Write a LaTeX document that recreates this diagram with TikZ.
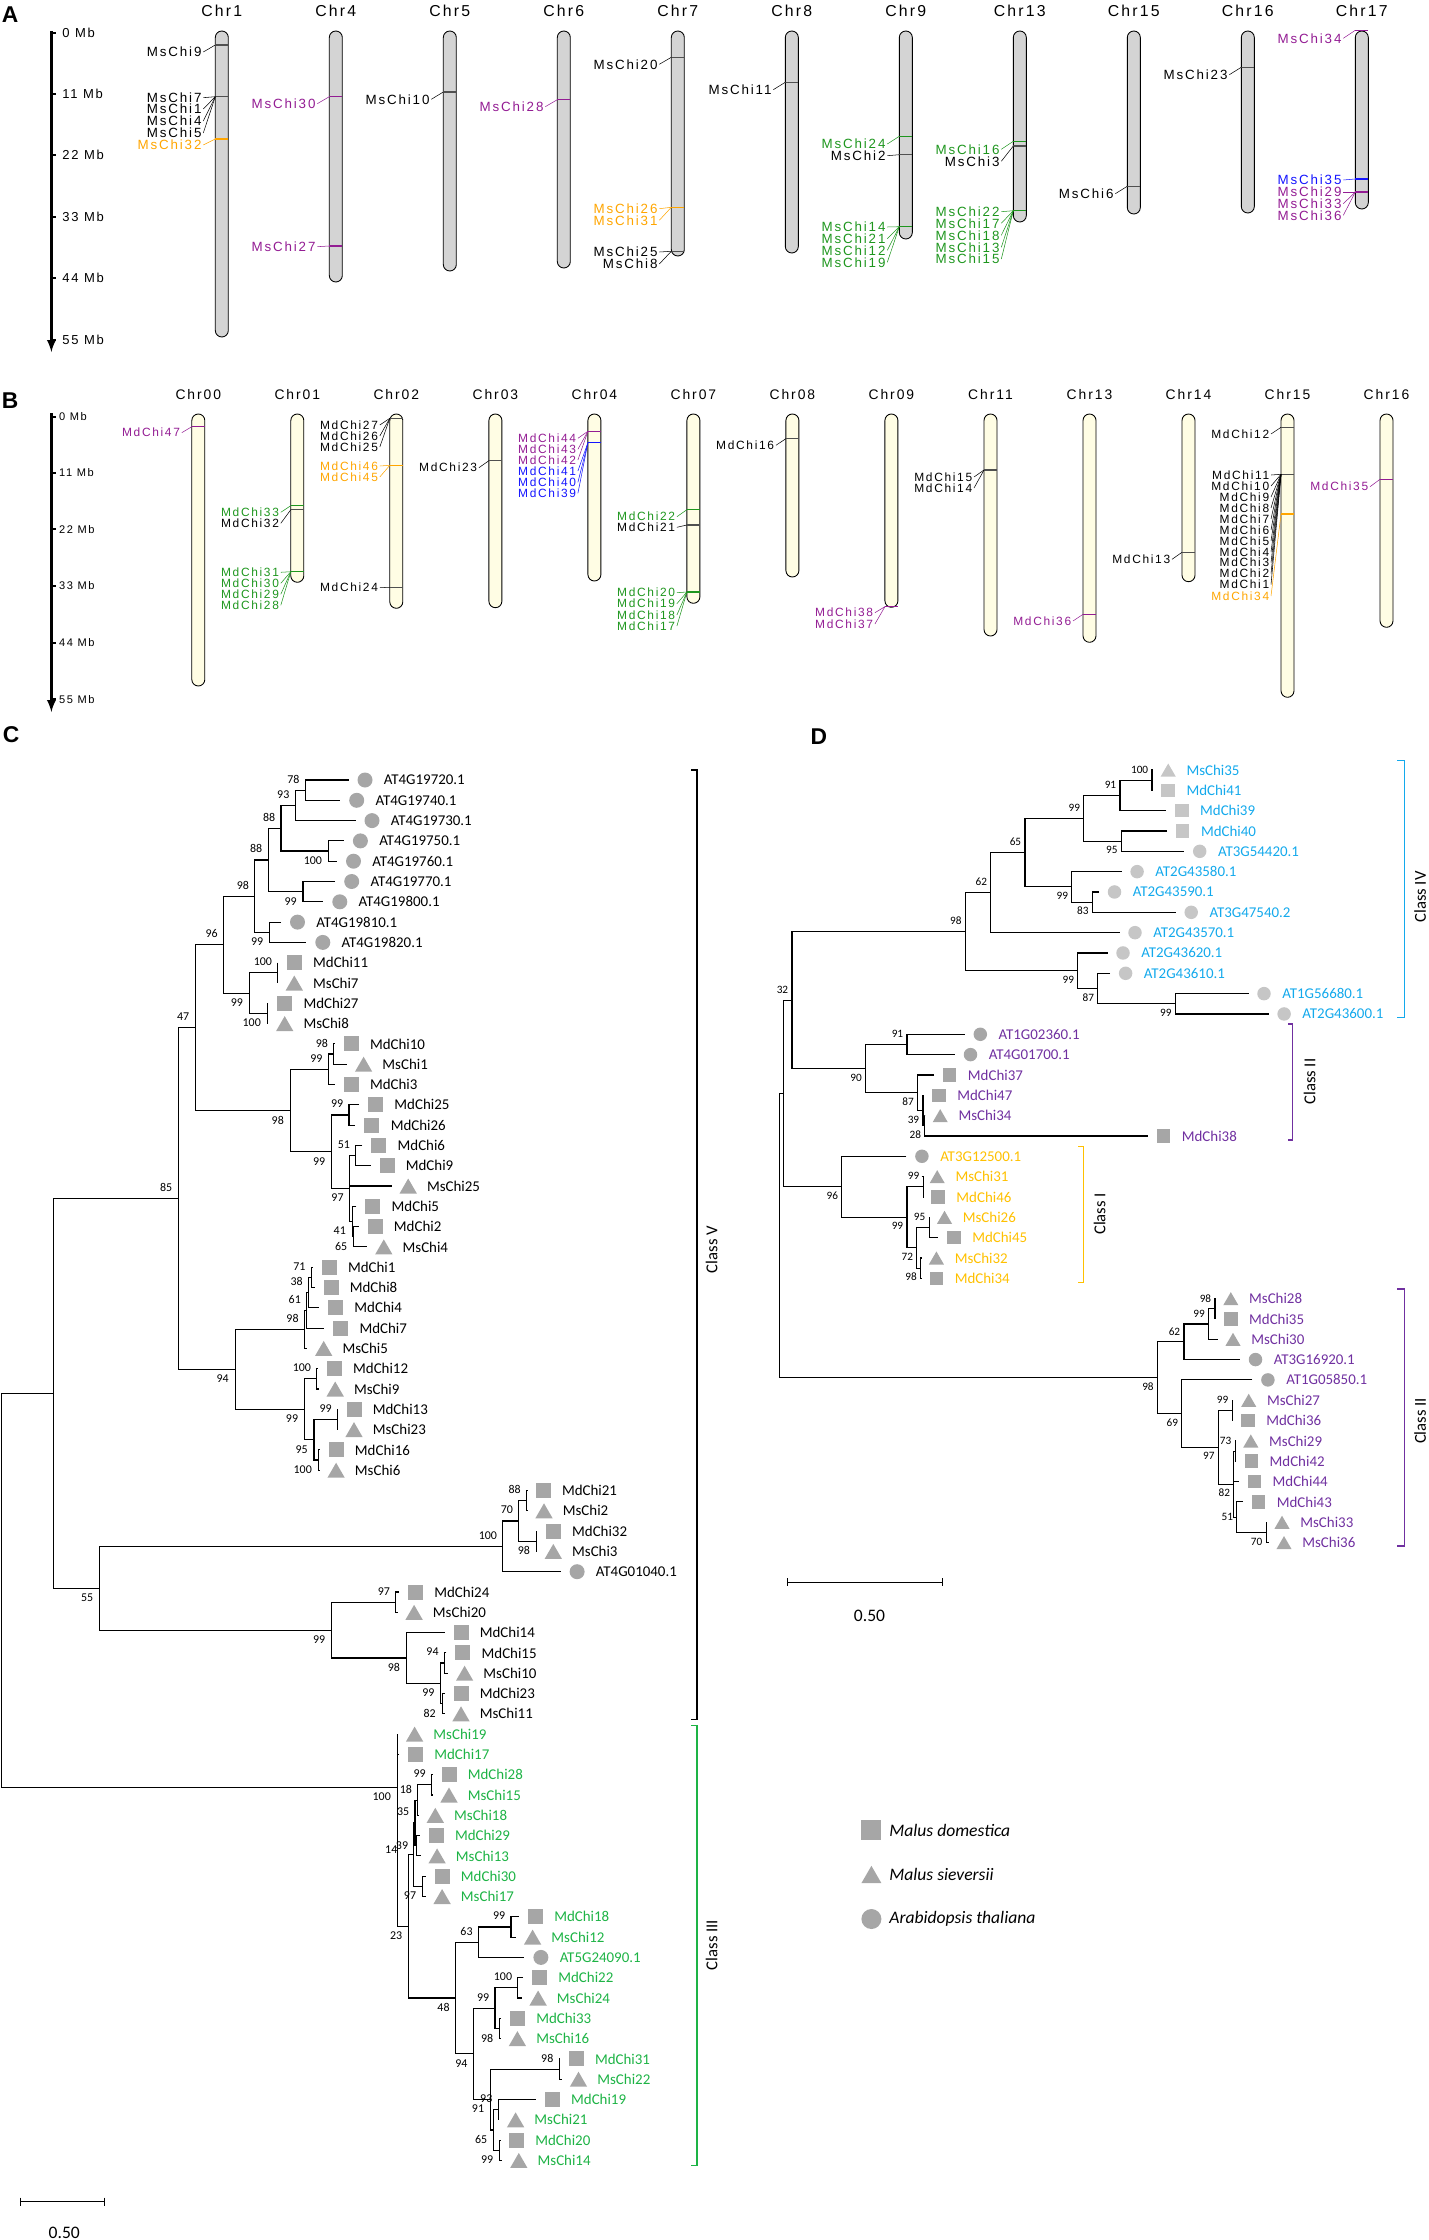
\documentclass[tikz,border=0pt]{standalone}
\usepackage{fontspec}
\usetikzlibrary{calc, arrows, shapes.geometric}
\newfontfamily\mcfont[LetterSpace=14]{Liberation Sans}
\newfontfamily\lsfont{Liberation Sans}
\newfontfamily\trfont{Carlito}

\definecolor{chrgray}{HTML}{D4D4D4}
\definecolor{chrivory}{HTML}{FFFDE4}
\definecolor{mkgray}{HTML}{505050}
\definecolor{agreen}{HTML}{1E961E}
\definecolor{apurple}{HTML}{931C93}
\definecolor{aorange}{HTML}{FFA500}
\definecolor{ablue}{HTML}{1414FF}
\definecolor{cgreen}{HTML}{1DB345}
\definecolor{dcyan}{HTML}{13A9EC}
\definecolor{dpurple}{HTML}{7030A0}
\definecolor{dgold}{HTML}{FFC000}
\definecolor{symgray}{HTML}{A6A6A6}
\definecolor{symlight}{HTML}{C6C6C6}

% gene on a chromosome: mark, then label with its connector
\newcommand{\gmark}[3]{\draw[#1, line width=0.7pt] ({#2-6.5},#3) -- ({#2+6.5},#3);}
\newcommand{\glabel}[6]{%
  \node[glab, text=#3] (#1-#2) at ({#4-\goff},#5) {#2};
  \draw[#3, line width=0.3pt] ([xshift=0.3mm]#1-#2.east) -- ({#4-6.5},#6);}

% tree: leaf (tip, symbol, name) and clade (elbow to first and last child)
\newcommand{\tleaf}[5]{%
  \coordinate (#1) at ({#2-\tipoff},{\ybase+\ystep*(#3-1)});
  \node[#4] (#1-s) at (#2,{\ybase+\ystep*(#3-1)}) {};
  \node[lname] (#1-t) at ({#2+\laboff},{\ybase+\ystep*(#3-1)}) {#5};}
\newcommand{\tcladeN}[4]{%
  \coordinate (#1m) at ($(#3)!.5!(#4)$);
  \coordinate (#1) at (#2,0 |- #1m);
  \draw[branch] (#3) -| (#1) |- (#4);}
\newcommand{\tclade}[6]{%
  \tcladeN{#1}{#2}{#3}{#4}
  \node[boot, #5] (#1-b) at (#1) {#6};}

\tikzset{
  chrom/.style={draw=black, line width=0.5pt, rounded corners=1.3mm},
  chrname/.style={font=\mcfont\fontsize{9}{10}\selectfont, inner sep=0pt},
  glab/.style={font=\mcfont\fontsize{7.6}{8}\selectfont, anchor=east, inner sep=0pt},
  ticklab/.style={font=\mcfont\fontsize{7.4}{8}\selectfont, anchor=west, inner sep=0pt},
  axis/.style={line width=1.3pt},
  panel/.style={font=\lsfont\bfseries\fontsize{13}{14}\selectfont, inner sep=0pt},
  branch/.style={line width=0.65pt},
  boot/.style={font=\trfont\fontsize{6.8}{7}\selectfont, inner sep=0pt, text=black, anchor=east},
  bu/.style={xshift=-1.1mm, yshift=2.2mm},
  bd/.style={xshift=-1.2mm, yshift=-1.9mm},
  bm/.style={xshift=-0.6mm},
  b14/.style={xshift=-3.1mm, yshift=1mm},
  b39/.style={xshift=-1.7mm},
  lcol/.style={},
  lname/.style={font=\trfont\fontsize{8.5}{9}\selectfont, anchor=west, inner sep=0pt, lcol},
  symfill/.style={fill=symgray},
  symsz/.style={minimum size=0.3cm},
  trisz/.style={minimum size=0.4cm, yshift=-0.5mm},
  msq/.style={rectangle, symfill, symsz, inner sep=0pt},
  mdot/.style={circle, symfill, symsz, inner sep=0pt},
  mtri/.style={regular polygon, regular polygon sides=3, symfill, trisz, inner sep=0pt},
  brk/.style={line width=0.6pt},
  clab/.style={font=\trfont\fontsize{9.5}{10}\selectfont, rotate=90, inner sep=0pt},
  sclab/.style={font=\trfont\fontsize{10}{11}\selectfont, inner sep=0pt},
  lgtext/.style={font=\trfont\itshape\fontsize{10}{11}\selectfont, anchor=west, inner sep=0pt}
}

\begin{document}
\begin{tikzpicture}[>=latex, x=0.02cm, y=-0.02cm]
\useasboundingbox (0,0) rectangle (1428,2240);

%%% A
\node[panel] (pA) at (10,15) {A};
\draw[axis, ->] (51.4,31) -- (51.4,352);
\foreach \v/\y in {0/33, 11/94.3, 22/155.3, 33/217, 44/278.3, 55/340} {
  \draw[axis] (51.4,\y) -- (56,\y);
  \node[ticklab] (A-t\v) at (62,\y) {\v\ Mb};
}
\foreach \nm/\x/\b in {Chr1/221.8/337, Chr4/335.8/282, Chr5/449.8/271, Chr6/563.8/268,
    Chr7/677.8/256, Chr8/791.8/253, Chr9/905.8/239, Chr13/1019.8/222,
    Chr15/1133.8/214, Chr16/1247.8/213, Chr17/1361.8/209} {
  \draw[chrom, fill=chrgray] ({\x-6.5},31) rectangle ({\x+6.5},\b);
  \node[chrname] (A-\nm) at (\x,11) {\nm};
}
\foreach \c/\x/\y in {mkgray/221.8/45, mkgray/221.8/96.7, aorange/221.8/139,
    apurple/335.8/96.7, apurple/335.8/246, mkgray/449.8/92, apurple/563.8/99.7,
    mkgray/677.8/57.3, aorange/677.8/207.3, mkgray/677.8/251.3, mkgray/791.8/82.3,
    agreen/905.8/136.3, mkgray/905.8/154.7, agreen/905.8/226.7,
    agreen/1019.8/141.3, mkgray/1019.8/146, agreen/1019.8/210.7,
    mkgray/1133.8/186.3, mkgray/1247.8/67.3,
    apurple/1361.8/30.3, ablue/1361.8/179, apurple/1361.8/192}
  \gmark{\c}{\x}{\y};
\def\goff{20}
\foreach \g/\c/\x/\ly/\my in {MsChi9/black/221.8/52/45,
    MsChi7/black/221.8/97.7/96.7, MsChi1/black/221.8/109/96.7,
    MsChi4/black/221.8/121/96.7, MsChi5/black/221.8/133/96.7,
    MsChi32/aorange/221.8/145/139,
    MsChi30/apurple/335.8/103.7/96.7, MsChi27/apurple/335.8/246.7/246,
    MsChi10/black/449.8/99.3/92, MsChi28/apurple/563.8/106.7/99.7,
    MsChi20/black/677.8/64.3/57.3, MsChi26/aorange/677.8/208.7/207.3,
    MsChi31/aorange/677.8/220.3/207.3, MsChi25/black/677.8/252/251.3,
    MsChi8/black/677.8/264/251.3, MsChi11/black/791.8/89.7/82.3,
    MsChi24/agreen/905.8/144/136.3, MsChi2/black/905.8/155.7/154.7,
    MsChi14/agreen/905.8/227/226.7, MsChi21/agreen/905.8/238.7/226.7,
    MsChi12/agreen/905.8/250.3/226.7, MsChi19/agreen/905.8/262.3/226.7,
    MsChi16/agreen/1019.8/149.3/141.3, MsChi3/black/1019.8/161.3/146,
    MsChi22/agreen/1019.8/211.7/210.7, MsChi17/agreen/1019.8/223.3/210.7,
    MsChi18/agreen/1019.8/235.3/210.7, MsChi13/agreen/1019.8/247.3/210.7,
    MsChi15/agreen/1019.8/259/210.7, MsChi6/black/1133.8/193.7/186.3,
    MsChi23/black/1247.8/74.7/67.3, MsChi34/apurple/1361.8/38.3/30.3,
    MsChi35/ablue/1361.8/180/179, MsChi29/apurple/1361.8/192/192,
    MsChi33/apurple/1361.8/203.7/192, MsChi36/apurple/1361.8/215.3/192}
  \glabel{A}{\g}{\c}{\x}{\ly}{\my};

%%% B
\begin{scope}[chrname/.append style={font=\mcfont\fontsize{7.9}{9}\selectfont},
  glab/.append style={font=\mcfont\fontsize{6.8}{7}\selectfont},
  ticklab/.append style={font=\mcfont\fontsize{6.3}{7}\selectfont}]
\node[panel] (pB) at (10,401) {B};
\draw[axis, ->] (51.4,413.3) -- (51.4,712);
\foreach \v/\y in {0/416.7, 11/472.7, 22/529.3, 33/586, 44/642.7, 55/699.3} {
  \draw[axis] (51.4,\y) -- (56,\y);
  \node[ticklab] (B-t\v) at (58.8,\y) {\v\ Mb};
}
\foreach \nm/\x/\b in {Chr00/198.3/686, Chr01/297.3/582.3, Chr02/396.3/608.3,
    Chr03/495.4/607.7, Chr04/594.4/581, Chr07/693.4/603.3, Chr08/792.4/577,
    Chr09/891.4/607.3, Chr11/990.5/636, Chr13/1089.5/642.3, Chr14/1188.5/581.7,
    Chr15/1287.5/697.3, Chr16/1386.5/627.3} {
  \draw[chrom, fill=chrivory] ({\x-6.5},414) rectangle ({\x+6.5},\b);
  \node[chrname] (B-\nm) at (\x,395) {\nm};
}
\foreach \c/\x/\y in {apurple/198.3/426.7,
    agreen/297.3/505.7, mkgray/297.3/509.7, agreen/297.3/571.7,
    mkgray/396.3/418.3, aorange/396.3/465.3, mkgray/396.3/587.3,
    mkgray/495.4/460.7, apurple/594.4/431.3, ablue/594.4/442.7,
    agreen/693.4/509.7, mkgray/693.4/525, agreen/693.4/592,
    mkgray/792.4/438.7, apurple/891.4/606.7, mkgray/990.5/470,
    apurple/1089.5/614.3, mkgray/1188.5/552.3,
    mkgray/1287.5/427.3, mkgray/1287.5/474.3, aorange/1287.5/514,
    apurple/1386.5/479.3}
  \gmark{\c}{\x}{\y};
\def\goff{18}
\foreach \g/\c/\x/\ly/\my in {MdChi47/apurple/198.3/432.7/426.7,
    MdChi33/agreen/297.3/512.3/505.7, MdChi32/black/297.3/523.3/509.7,
    MdChi31/agreen/297.3/572.3/571.7, MdChi30/agreen/297.3/583.3/571.7,
    MdChi29/agreen/297.3/594.3/571.7, MdChi28/agreen/297.3/605.3/571.7,
    MdChi27/black/396.3/425/418.3, MdChi26/black/396.3/436/418.3,
    MdChi25/black/396.3/447/418.3, MdChi46/aorange/396.3/466/465.3,
    MdChi45/aorange/396.3/477/465.3, MdChi24/black/396.3/587.7/587.3,
    MdChi23/black/495.4/467.7/460.7,
    MdChi44/apurple/594.4/438.3/431.3, MdChi43/apurple/594.4/449.3/431.3,
    MdChi42/apurple/594.4/460/431.3, MdChi41/ablue/594.4/471/442.7,
    MdChi40/ablue/594.4/482.3/442.7, MdChi39/ablue/594.4/493.3/442.7,
    MdChi22/agreen/693.4/516.7/509.7, MdChi21/black/693.4/527.3/525,
    MdChi20/agreen/693.4/592.7/592, MdChi19/agreen/693.4/603.7/592,
    MdChi18/agreen/693.4/615/592, MdChi17/agreen/693.4/626/592,
    MdChi16/black/792.4/445.3/438.7,
    MdChi38/apurple/891.4/612.7/606.7, MdChi37/apurple/891.4/624/606.7,
    MdChi15/black/990.5/477/470, MdChi14/black/990.5/488/470,
    MdChi36/apurple/1089.5/621/614.3, MdChi13/black/1188.5/559.3/552.3,
    MdChi12/black/1287.5/434/427.3, MdChi11/black/1287.5/475/474.3,
    MdChi10/black/1287.5/486/474.3, MdChi9/black/1287.5/497/474.3,
    MdChi8/black/1287.5/508/474.3, MdChi7/black/1287.5/519/474.3,
    MdChi6/black/1287.5/530/474.3, MdChi5/black/1287.5/541/474.3,
    MdChi4/black/1287.5/552/474.3, MdChi3/black/1287.5/562.7/474.3,
    MdChi2/black/1287.5/573.7/474.3, MdChi1/black/1287.5/584.7/474.3,
    MdChi34/aorange/1287.5/596/514, MdChi35/apurple/1386.5/486.7/479.3}
  \glabel{B}{\g}{\c}{\x}{\ly}{\my};
\end{scope}

%%% C
\begin{scope}
\def\ybase{780}\def\ystep{20.3}\def\tipoff{16.5}\def\laboff{18.5}
\node[panel] (pC) at (11,735) {C};
\foreach \sx/\shp/\txt [count=\idx] in {365/mdot/AT4G19720.1, 356.7/mdot/AT4G19740.1,
    372/mdot/AT4G19730.1, 360.4/mdot/AT4G19750.1, 353.5/mdot/AT4G19760.1,
    351.7/mdot/AT4G19770.1, 339.8/mdot/AT4G19800.1, 297.5/mdot/AT4G19810.1,
    322.8/mdot/AT4G19820.1, 294.3/msq/MdChi11, 294.3/mtri/MsChi7, 284.7/msq/MdChi27,
    284.7/mtri/MsChi8, 351.2/msq/MdChi10, 363.6/mtri/MsChi1, 351.2/msq/MdChi3,
    375.6/msq/MdChi25, 371.9/msq/MdChi26, 378.8/msq/MdChi6, 387/msq/MdChi9,
    408.2/mtri/MsChi25, 372.8/msq/MdChi5, 375.1/msq/MdChi2, 383.8/mtri/MsChi4,
    329.2/msq/MdChi1, 331/msq/MdChi8, 335.6/msq/MdChi4, 340.7/msq/MdChi7,
    323.7/mtri/MsChi5, 334.3/msq/MdChi12, 335.2/mtri/MsChi9, 354/msq/MdChi13,
    354/mtri/MsChi23, 336.1/msq/MdChi16, 336.1/mtri/MsChi6, 543.2/msq/MdChi21,
    544/mtri/MsChi2, 553.3/msq/MdChi32, 553.3/mtri/MsChi3, 577.1/mdot/AT4G01040.1,
    415.5/msq/MdChi24, 414.1/mtri/MsChi20, 461/msq/MdChi14, 462.8/msq/MdChi15,
    464.6/mtri/MsChi10, 461/msq/MdChi23, 461/mtri/MsChi11}
  \tleaf{c\idx}{\sx}{\idx}{\shp}{\txt};
\begin{scope}[lcol/.style={text=cgreen}]
\foreach \sx/\shp/\txt [count=\idx from 48] in {414.6/mtri/MsChi19, 415.5/msq/MdChi17,
    449/msq/MdChi28, 449/mtri/MsChi15, 435.3/mtri/MsChi18, 436.2/msq/MdChi29,
    437.1/mtri/MsChi13, 442.1/msq/MdChi30, 442.1/mtri/MsChi17, 535.4/msq/MdChi18,
    532.6/mtri/MsChi12, 540.9/mdot/AT5G24090.1, 539.5/msq/MdChi22, 538.1/mtri/MsChi24,
    517.4/msq/MdChi33, 517.4/mtri/MsChi16, 576.2/msq/MdChi31, 578.5/mtri/MsChi22,
    552.3/msq/MdChi19, 515.6/mtri/MsChi21, 516.5/msq/MdChi20, 518.8/mtri/MsChi14}
  \tleaf{c\idx}{\sx}{\idx}{\shp}{\txt};
\end{scope}
% class V
\tclade{k78}{305.3}{c1}{c2}{bu}{78}
\tclade{k93}{295.2}{k78}{c3}{bu}{93}
\tclade{k100a}{328.3}{c4}{c5}{bd}{100}
\tclade{k88a}{281}{k93}{k100a}{bu}{88}
\tclade{k99a}{303}{c6}{c7}{bd}{99}
\tclade{k88b}{268.1}{k88a}{k99a}{bu}{88}
\tclade{k99b}{269.5}{c8}{c9}{bd}{99}
\tclade{k98a}{254.8}{k88b}{k99b}{bu}{98}
\tclade{k100b}{277.8}{c10}{c11}{bu}{100}
\tclade{k100c}{267.2}{c12}{c13}{bd}{100}
\tclade{k99c}{249.3}{k100b}{k100c}{bd}{99}
\tclade{k96}{223.6}{k98a}{k99c}{bu}{96}
\tclade{k98b}{333.8}{c14}{c15}{bu}{98}
\tclade{k99d}{328.3}{k98b}{c16}{bu}{99}
\tclade{k99e}{349}{c17}{c18}{bu}{99}
\tclade{k51}{355.8}{c19}{c20}{bu}{51}
\tclade{k65}{353.5}{c23}{c24}{bd}{65}
\tclade{k41}{352.2}{c22}{k65}{bd}{41}
\tclade{k97}{349.9}{k51}{k41}{bd}{97}
\draw[branch] (k97) |- (c21);
\tclade{k99f}{331.5}{k99e}{k97}{bd}{99}
\tclade{k98c}{290.2}{k99d}{k99f}{bd}{98}
\tclade{k47}{195.1}{k96}{k98c}{bu}{47}
\tclade{k71}{311.3}{c25}{c26}{bu}{71}
\tclade{k38}{308.5}{k71}{c27}{bu}{38}
\tclade{k61}{306.7}{k38}{c28}{bu}{61}
\tclade{k98d}{304.4}{k61}{c29}{bu}{98}
\tclade{k100d}{316.8}{c30}{c31}{bu}{100}
\tclade{k99g}{337.5}{c32}{c33}{bu}{99}
\tclade{k100e}{318.2}{c34}{c35}{bd}{100}
\tclade{k95}{314}{k99g}{k100e}{bd}{95}
\tclade{k99h}{304.4}{k100d}{k95}{bd}{99}
\tclade{k94}{235.1}{k98d}{k99h}{bd}{94}
\tclade{k85}{178.1}{k47}{k94}{bu}{85}
\tclade{k88}{526.6}{c36}{c37}{bu}{88}
\tclade{k98e}{536.3}{c38}{c39}{bd}{98}
\tclade{k70}{518.8}{k88}{k98e}{bu}{70}
\tclade{k100f}{502.8}{k70}{c40}{bu}{100}
\tclade{k97b}{395.8}{c41}{c42}{bu}{97}
\tclade{k94b}{444.4}{c44}{c45}{bu}{94}
\tclade{k82}{442.1}{c46}{c47}{bd}{82}
\tclade{k99j}{440.8}{k94b}{k82}{bd}{99}
\tclade{k98f}{406.3}{c43}{k99j}{bd}{98}
\tclade{k99k}{331.5}{k97b}{k98f}{bd}{99}
\tclade{k55}{99.6}{k100f}{k99k}{bd}{55}
\tcladeN{kV}{53.7}{k85}{k55}
% class III
\tclade{k99l}{431.6}{c50}{c51}{bu}{99}
\tclade{k18}{417.8}{k99l}{c52}{bu}{18}
\tclade{k39}{416.9}{c53}{c54}{b39}{39}
\tclade{k35}{415}{k18}{k39}{bu}{35}
\tclade{k97c}{422.4}{c55}{c56}{bd}{97}
\tclade{k14}{413.2}{k35}{k97c}{b14}{14}
\tclade{k99m}{511}{c57}{c58}{bu}{99}
\tclade{k63}{478.4}{k99m}{c59}{bu}{63}
\tclade{k100g}{517.9}{c60}{c61}{bu}{100}
\tclade{k98g}{499.5}{c62}{c63}{bd}{98}
\tclade{k99n}{495}{k100g}{k98g}{bu}{99}
\tclade{k98h}{559.2}{c64}{c65}{bu}{98}
\tclade{k93b}{498.2}{c66}{c67}{bu}{93}
\tclade{k99o}{499.5}{c68}{c69}{bd}{99}
\tclade{k65b}{493.6}{k93b}{k99o}{bd}{65}
\tclade{k91}{490.4}{k98h}{k65b}{bd}{91}
\tclade{k94c}{473.8}{k99n}{k91}{bd}{94}
\tclade{k48}{455.9}{k63}{k94c}{bd}{48}
\tclade{k23}{408.6}{k14}{k48}{bd}{23}
\tcladeN{kIIIa}{397.2}{c49}{k23}
\tclade{k100h}{397.2}{c48}{kIIIa}{bd}{100}
\tcladeN{kroot}{1.5}{kV}{k100h}
% brackets and scale
\draw[brk] (691,770) -| (697,1719.3) -- (691,1719.3);
\node[clab] (clsV) at (711.7,1249.5) {Class V};
\draw[brk, cgreen] (691,1725.7) -| (697,2165.7) -- (691,2165.7);
\node[clab] (clsIII) at (711.7,1945) {Class III};
\coordinate (sbC1) at (20.7,2201.7);
\coordinate (sbC2) at (104.7,2201.7);
\draw[branch] (sbC1) -- (sbC2);
\draw[branch] ([yshift=0.8mm]sbC1) -- ([yshift=-0.8mm]sbC1);
\draw[branch] ([yshift=0.8mm]sbC2) -- ([yshift=-0.8mm]sbC2);
\node[sclab] (sbCt) at (64.3,2233.3) {0.50};
\end{scope}

%%% D
\begin{scope}[bu/.style={xshift=-0.7mm, yshift=2.1mm}, bd/.style={xshift=-0.7mm, yshift=-1.8mm},
  boot/.append style={font=\trfont\fontsize{6.4}{7}\selectfont},
  symsz/.style={minimum size=0.27cm}, trisz/.style={minimum size=0.35cm, yshift=-0.45mm}]
\def\ybase{770}\def\ystep{20.33}\def\tipoff{15.5}\def\laboff{18}
\node[panel] (pD) at (818.8,736.7) {D};
\begin{scope}[lcol/.style={text=dcyan}, symfill/.style={fill=symlight}]
\foreach \sx/\shp/\txt [count=\idx] in {1168.2/mtri/MsChi35, 1168.2/msq/MdChi41,
    1181.8/msq/MdChi39, 1182.7/msq/MdChi40, 1199.7/mdot/AT3G54420.1,
    1137.1/mdot/AT2G43580.1, 1114.5/mdot/AT2G43590.1, 1191.2/mdot/AT3G47540.2,
    1135/mdot/AT2G43570.1, 1123/mdot/AT2G43620.1, 1125.6/mdot/AT2G43610.1,
    1264/mdot/AT1G56680.1, 1284.1/mdot/AT2G43600.1}
  \tleaf{d\idx}{\sx}{\idx}{\shp}{\txt};
\end{scope}
\begin{scope}[lcol/.style={text=dpurple}]
\foreach \sx/\shp/\txt [count=\idx from 14] in {980.3/mdot/AT1G02360.1,
    970.5/mdot/AT4G01700.1, 949.6/msq/MdChi37, 939/msq/MdChi47, 940.2/mtri/MsChi34,
    1163.5/msq/MdChi38}
  \tleaf{d\idx}{\sx}{\idx}{\shp}{\txt};
\foreach \sx/\shp/\txt [count=\idx from 27] in {1230.8/mtri/MsChi28, 1230.8/msq/MdChi35,
    1233/mtri/MsChi30, 1255.5/mdot/AT3G16920.1, 1267.9/mdot/AT1G05850.1,
    1248.7/mtri/MsChi27, 1247.9/msq/MdChi36, 1250.8/mtri/MsChi29, 1251.3/msq/MdChi42,
    1254.3/msq/MdChi44, 1258.5/msq/MdChi43, 1282/mtri/MsChi33, 1284/mtri/MsChi36}
  \tleaf{d\idx}{\sx}{\idx}{\shp}{\txt};
\end{scope}
\begin{scope}[lcol/.style={text=dgold}]
\foreach \sx/\shp/\txt [count=\idx from 20] in {921.9/mdot/AT3G12500.1,
    937.2/mtri/MsChi31, 938.1/msq/MdChi46, 944.5/mtri/MsChi26, 953.9/msq/MdChi45,
    936.4/mtri/MsChi32, 936.4/msq/MdChi34}
  \tleaf{d\idx}{\sx}{\idx}{\shp}{\txt};
\end{scope}
% class IV and II
\tclade{e100}{1152}{d1}{d2}{bu}{100}
\tclade{e91}{1120}{e100}{d3}{bu}{91}
\tclade{e95}{1121.3}{d4}{d5}{bd}{95}
\tclade{e99a}{1083.8}{e91}{e95}{bu}{99}
\tclade{e83}{1092.3}{d7}{d8}{bd}{83}
\tclade{e99b}{1071.9}{d6}{e83}{bd}{99}
\tclade{e65}{1025}{e99a}{e99b}{bu}{65}
\tclade{e62}{990.9}{e65}{d9}{bu}{62}
\tclade{e99c}{1175.4}{d12}{d13}{bd}{99}
\tclade{e87}{1097.9}{d11}{e99c}{bd}{87}
\tclade{e99d}{1077.9}{d10}{e87}{bd}{99}
\tclade{e98}{965.4}{e62}{e99d}{bu}{98}
\tclade{e91b}{907}{d14}{d15}{bu}{91}
\tclade{e28}{924.9}{d18}{d19}{bd}{28}
\tclade{e39}{923}{d17}{e28}{bd}{39}
\tclade{e87b}{917.6}{d16}{e39}{bd}{87}
\tclade{e90}{865.7}{e91b}{e87b}{bd}{90}
\tclade{e32}{792}{e98}{e90}{bu}{32}
% class I
\tclade{e99e}{923.2}{d21}{d22}{bu}{99}
\tclade{e95b}{929.2}{d23}{d24}{bu}{95}
\tclade{e98b}{920.6}{d25}{d26}{bd}{98}
\tclade{e72}{916.8}{e95b}{e98b}{bd}{72}
\tclade{e99f}{907}{e99e}{e72}{bd}{99}
\tclade{e96}{841.8}{d20}{e99f}{bd}{96}
\tcladeN{ex}{783.4}{e32}{e96}
% lower class II
\tclade{e98d}{1215}{d27}{d28}{bu}{98}
\tclade{e99g}{1208.7}{e98d}{d29}{bu}{99}
\tclade{e62b}{1184}{e99g}{d30}{bu}{62}
\tclade{e99h}{1232.1}{d32}{d33}{bu}{99}
\tclade{e73}{1235.1}{d34}{d35}{bu}{73}
\tclade{e70}{1266.2}{d38}{d39}{bd}{70}
\tclade{e51}{1236.4}{d37}{e70}{bm}{51}
\tclade{e82}{1233.8}{e73}{e51}{bd}{82}
\draw[branch] (e82) |- (d36);
\tclade{e97}{1218.3}{e99h}{e82}{bd}{97}
\tclade{e69}{1181.8}{d31}{e97}{bd}{69}
\tclade{e98c}{1157.5}{e62b}{e69}{bd}{98}
\tcladeN{eroot}{779.2}{ex}{e98c}
% brackets
\draw[brk, dcyan] (1397,760.7) -| (1404.2,1017.7) -- (1397,1017.7);
\node[clab] (clsIV) at (1420,897) {Class IV};
\draw[brk, dpurple] (1288.3,1024) -| (1292.6,1140) -- (1288.3,1140);
\node[clab] (clsIIa) at (1309.6,1081.7) {Class II};
\draw[brk, dgold] (1078.3,1146.7) -| (1083.8,1282.7) -- (1078.3,1282.7);
\node[clab] (clsI) at (1099.6,1214) {Class I};
\draw[brk, dpurple] (1397,1289) -| (1404.2,1546) -- (1397,1546);
\node[clab] (clsIIb) at (1420,1421) {Class II};
% scale
\coordinate (sbD1) at (787.7,1582.3);
\coordinate (sbD2) at (942.4,1582.3);
\draw[branch] (sbD1) -- (sbD2);
\draw[branch] ([yshift=0.8mm]sbD1) -- ([yshift=-0.8mm]sbD1);
\draw[branch] ([yshift=0.8mm]sbD2) -- ([yshift=-0.8mm]sbD2);
\node[sclab] (sbDt) at (869.5,1615.7) {0.50};
\end{scope}

%%% legend
\node[msq, minimum size=0.4cm] (lg1) at (871.4,1830) {};
\node[lgtext] (lg1t) at (889,1830) {Malus domestica};
\node[regular polygon, regular polygon sides=3, fill=symgray, inner sep=0pt,
  minimum size=0.46cm, yshift=-0.6mm] (lg2) at (871.4,1874.3) {};
\node[lgtext] (lg2t) at (889,1874.3) {Malus sieversii};
\node[mdot, minimum size=0.4cm] (lg3) at (871.4,1919) {};
\node[lgtext] (lg3t) at (889,1919) {Arabidopsis thaliana};
\end{tikzpicture}
\end{document}
